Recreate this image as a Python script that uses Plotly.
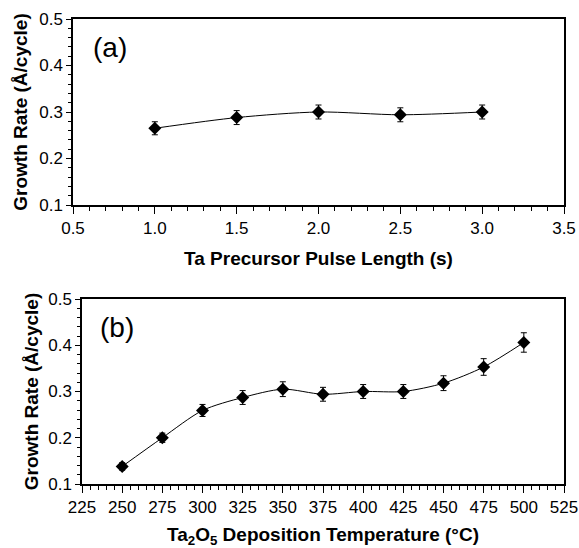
import plotly.graph_objects as go

W, H = 579, 548

# Panel (a)
pulse_length = [1.0, 1.5, 2.0, 2.5, 3.0]
rate_a = [0.265, 0.288, 0.300, 0.294, 0.300]
err_a = [0.014, 0.015, 0.015, 0.015, 0.015]

# Panel (b)
temperature = [250, 275, 300, 325, 350, 375, 400, 425, 450, 475, 500]
rate_b = [0.138, 0.200, 0.259, 0.287, 0.305, 0.294, 0.300, 0.300, 0.318, 0.353, 0.406]
err_b = [0.008, 0.010, 0.013, 0.015, 0.016, 0.015, 0.015, 0.015, 0.016, 0.018, 0.021]

FONT = "Liberation Sans, Arial, sans-serif"

def px_x(p):
    return p / W

def px_y(p):
    return 1 - p / H

fig = go.Figure()

common_trace = dict(
    mode="lines+markers",
    line=dict(color="black", width=1, shape="spline", smoothing=0.8),
    marker=dict(symbol="diamond", size=10, color="black"),
    showlegend=False,
)

fig.add_trace(go.Scatter(
    x=pulse_length, y=rate_a,
    error_y=dict(type="data", array=err_a, color="black", thickness=1, width=3),
    xaxis="x", yaxis="y", **common_trace))

fig.add_trace(go.Scatter(
    x=temperature, y=rate_b,
    error_y=dict(type="data", array=err_b, color="black", thickness=1, width=3),
    xaxis="x2", yaxis="y2", **common_trace))

dom_a_x = [px_x(73), px_x(564)]
dom_a_y = [px_y(205), px_y(19)]
dom_b_x = [px_x(82), px_x(564)]
dom_b_y = [px_y(484), px_y(299)]

tickfont = dict(family=FONT, size=17, color="black")
titlefont = dict(family=FONT, size=19, color="black")

def xaxis_def(domain, anchor, rng, dtick, minor_dtick, tickformat, title, standoff):
    return dict(
        domain=domain, anchor=anchor, range=rng, dtick=dtick, tick0=rng[0],
        tickformat=tickformat, showgrid=False, zeroline=False,
        showline=True, linecolor="black", linewidth=1.5, mirror=True,
        ticks="outside", ticklen=7, tickwidth=1, tickcolor="black",
        minor=dict(dtick=minor_dtick, ticks="outside", ticklen=4, tickwidth=1,
                   tickcolor="black", showgrid=False),
        tickfont=tickfont,
        title=dict(text=title, font=titlefont, standoff=standoff),
        automargin=False, fixedrange=True,
    )

def yaxis_def(domain, anchor, standoff):
    return dict(
        domain=domain, anchor=anchor, range=[0.1, 0.5], dtick=0.1, tick0=0.1,
        tickformat=".1f", showgrid=False, zeroline=False,
        showline=True, linecolor="black", linewidth=1.5, mirror=True,
        ticks="outside", ticklen=5, tickwidth=1, tickcolor="black",
        minor=dict(dtick=0.02, ticks="outside", ticklen=3, tickwidth=1,
                   tickcolor="black", showgrid=False),
        tickfont=tickfont,
        title=dict(text="<b>Growth Rate (Å/cycle)</b>", font=titlefont, standoff=standoff),
        automargin=False, fixedrange=True,
    )

def overlay_x(over, anchor, domain, rng, dtick):
    return dict(
        overlaying=over, anchor=anchor, domain=domain, range=rng, dtick=dtick,
        tick0=rng[0], showticklabels=False, ticks="inside", ticklen=5,
        tickwidth=1, tickcolor="black", showgrid=False, zeroline=False,
        showline=False, fixedrange=True, automargin=False,
    )

fig.update_layout(
    width=W, height=H,
    margin=dict(l=0, r=0, t=0, b=0),
    paper_bgcolor="white", plot_bgcolor="white",
    font=dict(family=FONT, color="black"),
    xaxis=xaxis_def(dom_a_x, "y", [0.5, 3.5], 0.5, 0.1, ".1f",
                    "<b>Ta Precursor Pulse Length (s)</b>", 15),
    yaxis=yaxis_def(dom_a_y, "x", 7),
    xaxis2=xaxis_def(dom_b_x, "y2", [225, 525], 25, 5, "d",
                     "<b>Ta<sub>2</sub>O<sub>5</sub> Deposition Temperature (°C)</b>", 18),
    yaxis2=yaxis_def(dom_b_y, "x2", 5),
    xaxis3=overlay_x("x", "y", dom_a_x, [0.5, 3.5], 0.5),
    xaxis4=overlay_x("x2", "y2", dom_b_x, [225, 525], 25),
    annotations=[
        dict(text="(a)", x=px_x(110), y=px_y(47), xref="paper", yref="paper",
             showarrow=False, font=dict(family=FONT, size=28, color="black"),
             xanchor="center", yanchor="middle"),
        dict(text="(b)", x=px_x(117), y=px_y(327), xref="paper", yref="paper",
             showarrow=False, font=dict(family=FONT, size=28, color="black"),
             xanchor="center", yanchor="middle"),
    ],
)

fig.write_html("out.html", config={"displayModeBar": False},
               post_script="document.body.style.margin='0px';")
